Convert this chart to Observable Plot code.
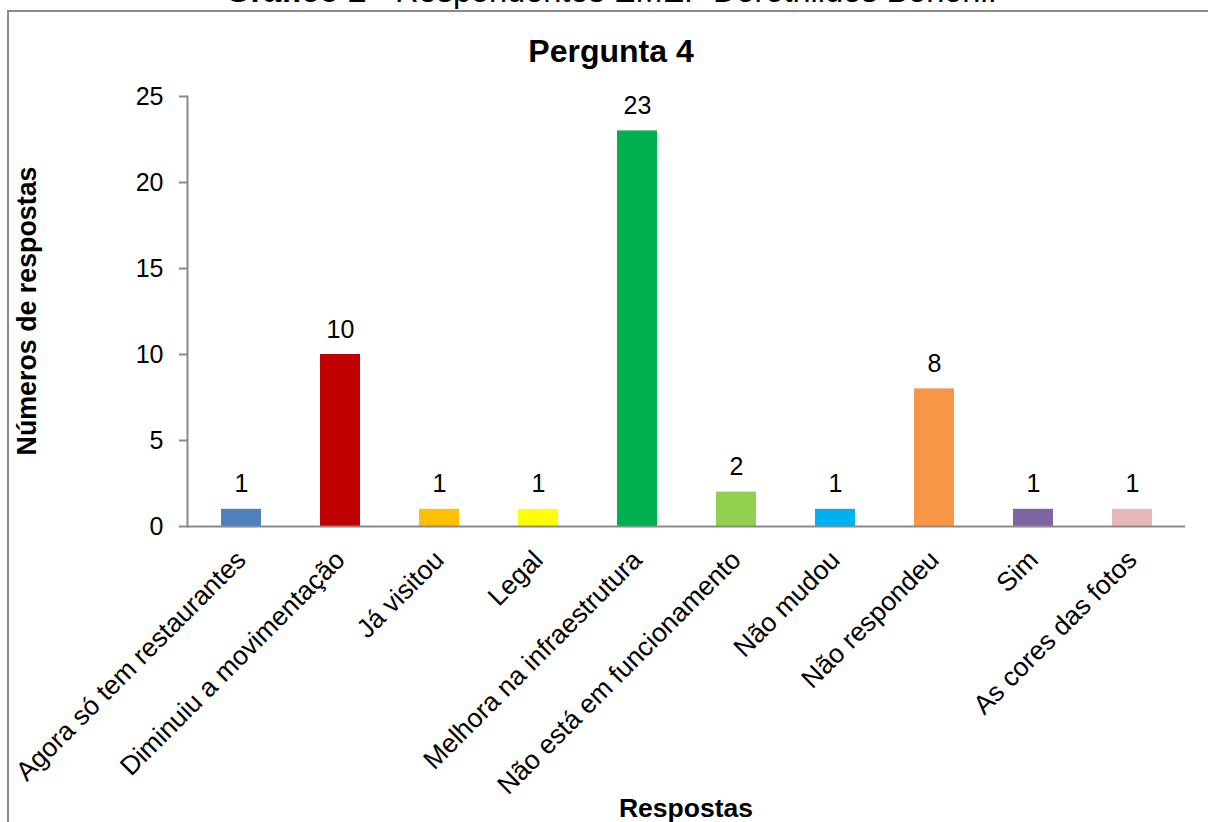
<!DOCTYPE html>
<html>
<head>
<meta charset="utf-8">
<script src="https://cdn.jsdelivr.net/npm/d3@7"></script>
<script src="https://cdn.jsdelivr.net/npm/@observablehq/plot@0.6"></script>
<style>
  html, body { margin: 0; padding: 0; background: #fff; }
  #wrap { position: relative; width: 1208px; height: 822px; overflow: hidden; font-family: "Liberation Sans", Arial, sans-serif; }
  #frame { position: absolute; left: 7px; top: 10px; width: 1212px; height: 830px; border: 2px solid #8a8a8a; box-sizing: border-box; }
  #chart { position: absolute; left: 0; top: 0; }
  .t { position: absolute; white-space: nowrap; color: #000; line-height: 1; }
  #top { left: 611px; top: -25px; transform: translateX(-50%); font-size: 32.5px; }
  #title { left: 611px; top: 35px; transform: translateX(-50%); font-size: 32px; font-weight: bold; }
  #xlab { left: 686px; top: 795px; transform: translateX(-50%); font-size: 26.5px; font-weight: bold; }
  #ylab { left: 27px; top: 311px; transform: translate(-50%, -50%) rotate(-90deg); font-size: 26.8px; font-weight: bold; }
</style>
</head>
<body>
<div id="wrap">
  <div id="frame"></div>
  <div id="chart"></div>
  <div class="t" id="top"><b>Gráfico 2</b> - Respondentes EMEF Dorothildes Bononi.</div>
  <div class="t" id="title">Pergunta 4</div>
  <div class="t" id="ylab">Números de respostas</div>
  <div class="t" id="xlab">Respostas</div>
</div>
<script>
const categories = [
  "Agora só tem restaurantes",
  "Diminuiu a movimentação",
  "Já visitou",
  "Legal",
  "Melhora na infraestrutura",
  "Não está em funcionamento",
  "Não mudou",
  "Não respondeu",
  "Sim",
  "As cores das fotos"
];
const values = [1, 10, 1, 1, 23, 2, 1, 8, 1, 1];
const colors = ["#4F81BD", "#C00000", "#FFC000", "#FFFF00", "#00B050", "#92D050", "#00B0F0", "#F79646", "#8064A2", "#E6B9B8"];
const yTicks = [0, 5, 10, 15, 20, 25];

const data = categories.map((c, i) => ({cat: c, val: values[i]}));
const gray = "#8a8a8a";

const chart = Plot.plot({
  width: 1208,
  height: 822,
  marginLeft: 187,
  marginRight: 23,
  marginTop: 96,
  marginBottom: 296,
  style: {fontFamily: "'Liberation Sans', Arial, sans-serif", color: "#000", background: "transparent"},
  x: {domain: categories, paddingInner: 0.6, paddingOuter: 0.3},
  y: {domain: [0, 25]},
  color: {domain: categories, range: colors},
  marks: [
    Plot.barY(data, {x: "cat", y: "val", fill: "cat"}),
    Plot.text(data, {x: "cat", y: "val", text: d => String(d.val), dy: -17, lineAnchor: "bottom", fontSize: 25, fill: "#000"}),
    Plot.ruleY([0], {stroke: gray, strokeWidth: 2}),
    Plot.frame({anchor: "left", stroke: gray, strokeWidth: 2}),
    Plot.axisY({ticks: yTicks, tickSize: 8, tickPadding: 16, fontSize: 25, stroke: gray, strokeWidth: 2, label: null, tickFormat: d => String(d)}),
    Plot.axisX({tickSize: 0, tickRotate: -45, tickPadding: 29, fontSize: 26.5, label: null})
  ]
});
document.getElementById("chart").appendChild(chart);
</script>
</body>
</html>
